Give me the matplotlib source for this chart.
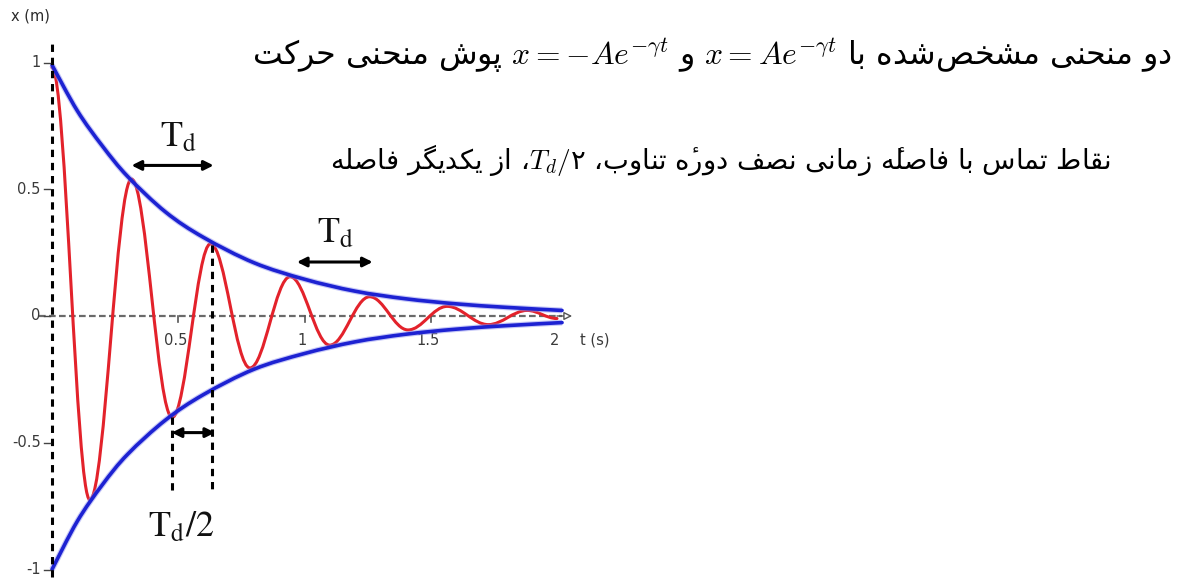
import numpy as np
import matplotlib
matplotlib.use("Agg")
import matplotlib.pyplot as plt
from matplotlib.path import Path
from matplotlib.patches import PathPatch

# ---------------------------------------------------------------- data
# turning points of the damped oscillation x(t)  (t in s, x in m)
RED_T = [0.0, 0.150, 0.315, 0.476, 0.628, 0.784, 0.943, 1.100, 1.258, 1.410, 1.565, 1.728, 1.882, 2.0]
RED_X = [0.98, -0.725, 0.540, -0.400, 0.285, -0.205, 0.155, -0.115, 0.076, -0.055, 0.038, -0.034, 0.022, -0.010]

# envelope curves  x = +A e^{-gamma t}  and  x = -A e^{-gamma t}
ENV_T = [0.0, 0.1, 0.2, 0.3, 0.45, 0.6, 0.8, 1.0, 1.2, 1.4, 1.6, 1.8, 2.02]
ENV_UP = [0.99, 0.81, 0.67, 0.55, 0.41, 0.31, 0.21, 0.145, 0.098, 0.068, 0.048, 0.034, 0.022]
ENV_LO = [-1.0, -0.81, -0.665, -0.545, -0.41, -0.31, -0.21, -0.148, -0.102, -0.072, -0.052, -0.038, -0.026]

X_TICKS = [0.5, 1.0, 1.5, 2.0]
X_TICK_LABELS = ["0.5", "1", "1.5", "2"]
Y_TICKS = [1.0, 0.5, 0.0, -0.5, -1.0]
Y_TICK_LABELS = ["1", "0.5", "0", "-0.5", "-1"]

LINE1 = ["دو منحنی مشخص\u200cشده با ", r"$x = Ae^{-\gamma t}$", " و ",
         r"$x = -Ae^{-\gamma t}$", " پوش منحنی حرکت"]
LINE2 = ["نقاط تماس با فاصله\u0654 زمانی نصف دوره\u0654 تناوب، ", r"$T_d/$" + "\u06F2",
         "، از یکدیگر فاصله"]

# ------------------------------------------------- Persian text shaping
# contextual glyphs: isolated, final, initial, medial
_FORMS = {
    '\u0627': ('\uFE8D', '\uFE8E', None, None),
    '\u0628': ('\uFE8F', '\uFE90', '\uFE91', '\uFE92'),
    '\u067E': ('\uFB56', '\uFB57', '\uFB58', '\uFB59'),
    '\u062A': ('\uFE95', '\uFE96', '\uFE97', '\uFE98'),
    '\u062D': ('\uFEA1', '\uFEA2', '\uFEA3', '\uFEA4'),
    '\u062E': ('\uFEA5', '\uFEA6', '\uFEA7', '\uFEA8'),
    '\u062F': ('\uFEA9', '\uFEAA', None, None),
    '\u0631': ('\uFEAD', '\uFEAE', None, None),
    '\u0632': ('\uFEAF', '\uFEB0', None, None),
    '\u0633': ('\uFEB1', '\uFEB2', '\uFEB3', '\uFEB4'),
    '\u0634': ('\uFEB5', '\uFEB6', '\uFEB7', '\uFEB8'),
    '\u0635': ('\uFEB9', '\uFEBA', '\uFEBB', '\uFEBC'),
    '\u0637': ('\uFEC1', '\uFEC2', '\uFEC3', '\uFEC4'),
    '\u0641': ('\uFED1', '\uFED2', '\uFED3', '\uFED4'),
    '\u0642': ('\uFED5', '\uFED6', '\uFED7', '\uFED8'),
    '\u06A9': ('\uFB8E', '\uFB8F', '\uFB90', '\uFB91'),
    '\u06AF': ('\uFB92', '\uFB93', '\uFB94', '\uFB95'),
    '\u0644': ('\uFEDD', '\uFEDE', '\uFEDF', '\uFEE0'),
    '\u0645': ('\uFEE1', '\uFEE2', '\uFEE3', '\uFEE4'),
    '\u0646': ('\uFEE5', '\uFEE6', '\uFEE7', '\uFEE8'),
    '\u0647': ('\uFEE9', '\uFEEA', '\uFEEB', '\uFEEC'),
    '\u0648': ('\uFEED', '\uFEEE', None, None),
    '\u06CC': ('\uFBFC', '\uFBFD', '\uFBFE', '\uFBFF'),
}
_MARKS = {'\u0654'}


def shape_rtl(s):
    """Join letters contextually and return them in left-to-right visual order."""
    n = len(s)

    def neighbour(i, step):
        j = i + step
        while 0 <= j < n and s[j] in _MARKS:
            j += step
        return s[j] if 0 <= j < n else None

    clusters = []
    for i, c in enumerate(s):
        if c in _MARKS:
            if clusters:
                clusters[-1] += c
            continue
        if c == '\u200c':
            continue
        if c in _FORMS:
            p, q = neighbour(i, -1), neighbour(i, 1)
            jp = p in _FORMS and _FORMS[p][2] is not None
            jn = _FORMS[c][2] is not None and q in _FORMS
            iso, fin, ini, med = _FORMS[c]
            clusters.append(med if (jp and jn) else fin if jp else ini if jn else iso)
        else:
            clusters.append(c)
    return ''.join(reversed(clusters))


def visual_line(parts):
    out = []
    for p in reversed(parts):
        out.append(p if p.startswith('$') else shape_rtl(p))
    return ''.join(out)


# ---------------------------------------------------------------- figure
W, H = 1189, 582
fig = plt.figure(figsize=(W / 100, H / 100), dpi=100)
fig.patch.set_facecolor("white")

XLIM = (-0.2, 2.2)
YLIM = (-1.04, 1.2)
ax = fig.add_axes([1.5 / W, (H - 579.64) / H, 606 / W, (579.64 - 11.8) / H])
ax.set_xlim(*XLIM)
ax.set_ylim(*YLIM)
ax.axis("off")


def wave_path(ts, xs):
    """Half-cosine arcs between successive turning points."""
    verts = [(ts[0], xs[0])]
    codes = [Path.MOVETO]
    for t0, x0, t1, x1 in zip(ts[:-1], xs[:-1], ts[1:], xs[1:]):
        h = (t1 - t0) * (1 - 2 / np.pi)
        verts += [(t0 + h, x0), (t1 - h, x1), (t1, x1)]
        codes += [Path.CURVE4] * 3
    return Path(verts, codes)


def smooth_path(ts, xs):
    pts = np.column_stack([ts, xs]).astype(float)
    verts = [tuple(pts[0])]
    codes = [Path.MOVETO]
    m = len(pts)
    for i in range(m - 1):
        p0, p1 = pts[max(i - 1, 0)], pts[i]
        p2, p3 = pts[i + 1], pts[min(i + 2, m - 1)]
        c1 = p1 + (p2 - p0) / 6.0
        c2 = p2 - (p3 - p1) / 6.0
        verts += [tuple(c1), tuple(c2), tuple(p2)]
        codes += [Path.CURVE4] * 3
    return Path(verts, codes)


RED = "#e3222b"
BLUE = "#1d22d2"

ax.add_patch(PathPatch(wave_path(RED_T, RED_X), fill=False, ec=RED, lw=2.2,
                       zorder=3, clip_on=False, capstyle="round"))
for env in (ENV_UP, ENV_LO):
    ax.add_patch(PathPatch(smooth_path(ENV_T, env), fill=False, ec="#8f92f0", lw=4.2,
                           alpha=0.5, zorder=4, clip_on=False))
    ax.add_patch(PathPatch(smooth_path(ENV_T, env), fill=False, ec=BLUE, lw=2.6,
                           zorder=4, clip_on=False, capstyle="round"))

# time axis (grey dashed with arrow head)
ax.plot([-0.05, 2.02], [0, 0], color="#6a6a6a", lw=1.6, ls=(0, (3.0, 1.5)), zorder=2)
ax.annotate("", xy=(2.06, 0), xytext=(2.0, 0),
            arrowprops=dict(arrowstyle="-|>", color="#555555", fc="white", lw=1.0,
                            mutation_scale=12, shrinkA=0, shrinkB=0), zorder=2)
for xt, lab in zip(X_TICKS, X_TICK_LABELS):
    if xt < 2.0:
        ax.plot([xt, xt], [0, -0.022], color="#555555", lw=1.2, zorder=2)
    ax.text(xt - 0.01, -0.095, lab, ha="center", va="center", fontsize=10.5,
            color="#3a3a3a", family="DejaVu Sans")
ax.text(2.15, -0.095, "t (s)", ha="center", va="center", fontsize=10.5,
        color="#3a3a3a", family="DejaVu Sans")

# displacement axis (black dashed)
ax.plot([0, 0], [-1.03, 1.09], color="black", lw=2.2, ls=(0, (2.4, 1.9)), zorder=5)
for yt, lab in zip(Y_TICKS, Y_TICK_LABELS):
    ax.plot([-0.03, -0.008], [yt, yt], color="#444444", lw=1.0, zorder=5)
    ax.text(-0.045, yt, lab, ha="right", va="center", fontsize=10.5,
            color="#3a3a3a", family="DejaVu Sans")
ax.text(-0.085, 1.185, "x (m)", ha="center", va="center", fontsize=10.5,
        color="#2a2a2a", family="DejaVu Sans")

# guide lines marking half a period
DASH = dict(color="black", lw=2.2, ls=(0, (2.4, 1.9)), zorder=5)
ax.plot([0.476, 0.476], [-0.40, -0.69], **DASH)
ax.plot([0.632, 0.632], [0.28, -0.70], **DASH)

ARROW = dict(arrowstyle="<|-|>", color="black", lw=2.2, mutation_scale=14,
             shrinkA=0, shrinkB=0)
ax.annotate("", xy=(0.315, 0.594), xytext=(0.64, 0.594), arrowprops=ARROW)
ax.annotate("", xy=(0.97, 0.213), xytext=(1.27, 0.213), arrowprops=ARROW)
ax.annotate("", xy=(0.474, -0.46), xytext=(0.646, -0.46), arrowprops=ARROW)

LBL = dict(ha="center", va="baseline", fontsize=26, math_fontfamily="stix",
           color="#111111")
ax.text(0.503, 0.667, r"$\mathrm{T_d}$", **LBL)
ax.text(1.123, 0.288, r"$\mathrm{T_d}$", **LBL)
ax.text(0.513, -0.872, r"$\mathrm{T_d/2}$", **LBL)

# Persian caption lines
TXT = dict(ha="right", va="baseline", fontsize=19, family="DejaVu Sans",
           math_fontfamily="cm", color="black")
t1 = fig.text(1172 / W, 1 - 65 / H, visual_line(LINE1), **TXT)
t2 = fig.text(1110 / W, 1 - 169 / H, visual_line(LINE2), **TXT)

renderer = fig.canvas.get_renderer()
for txt, target in ((t1, 920.0), (t2, 780.0)):
    w = txt.get_window_extent(renderer).width
    txt.set_fontsize(txt.get_fontsize() * target / w)

fig.savefig("out.png", dpi=100, facecolor="white")
